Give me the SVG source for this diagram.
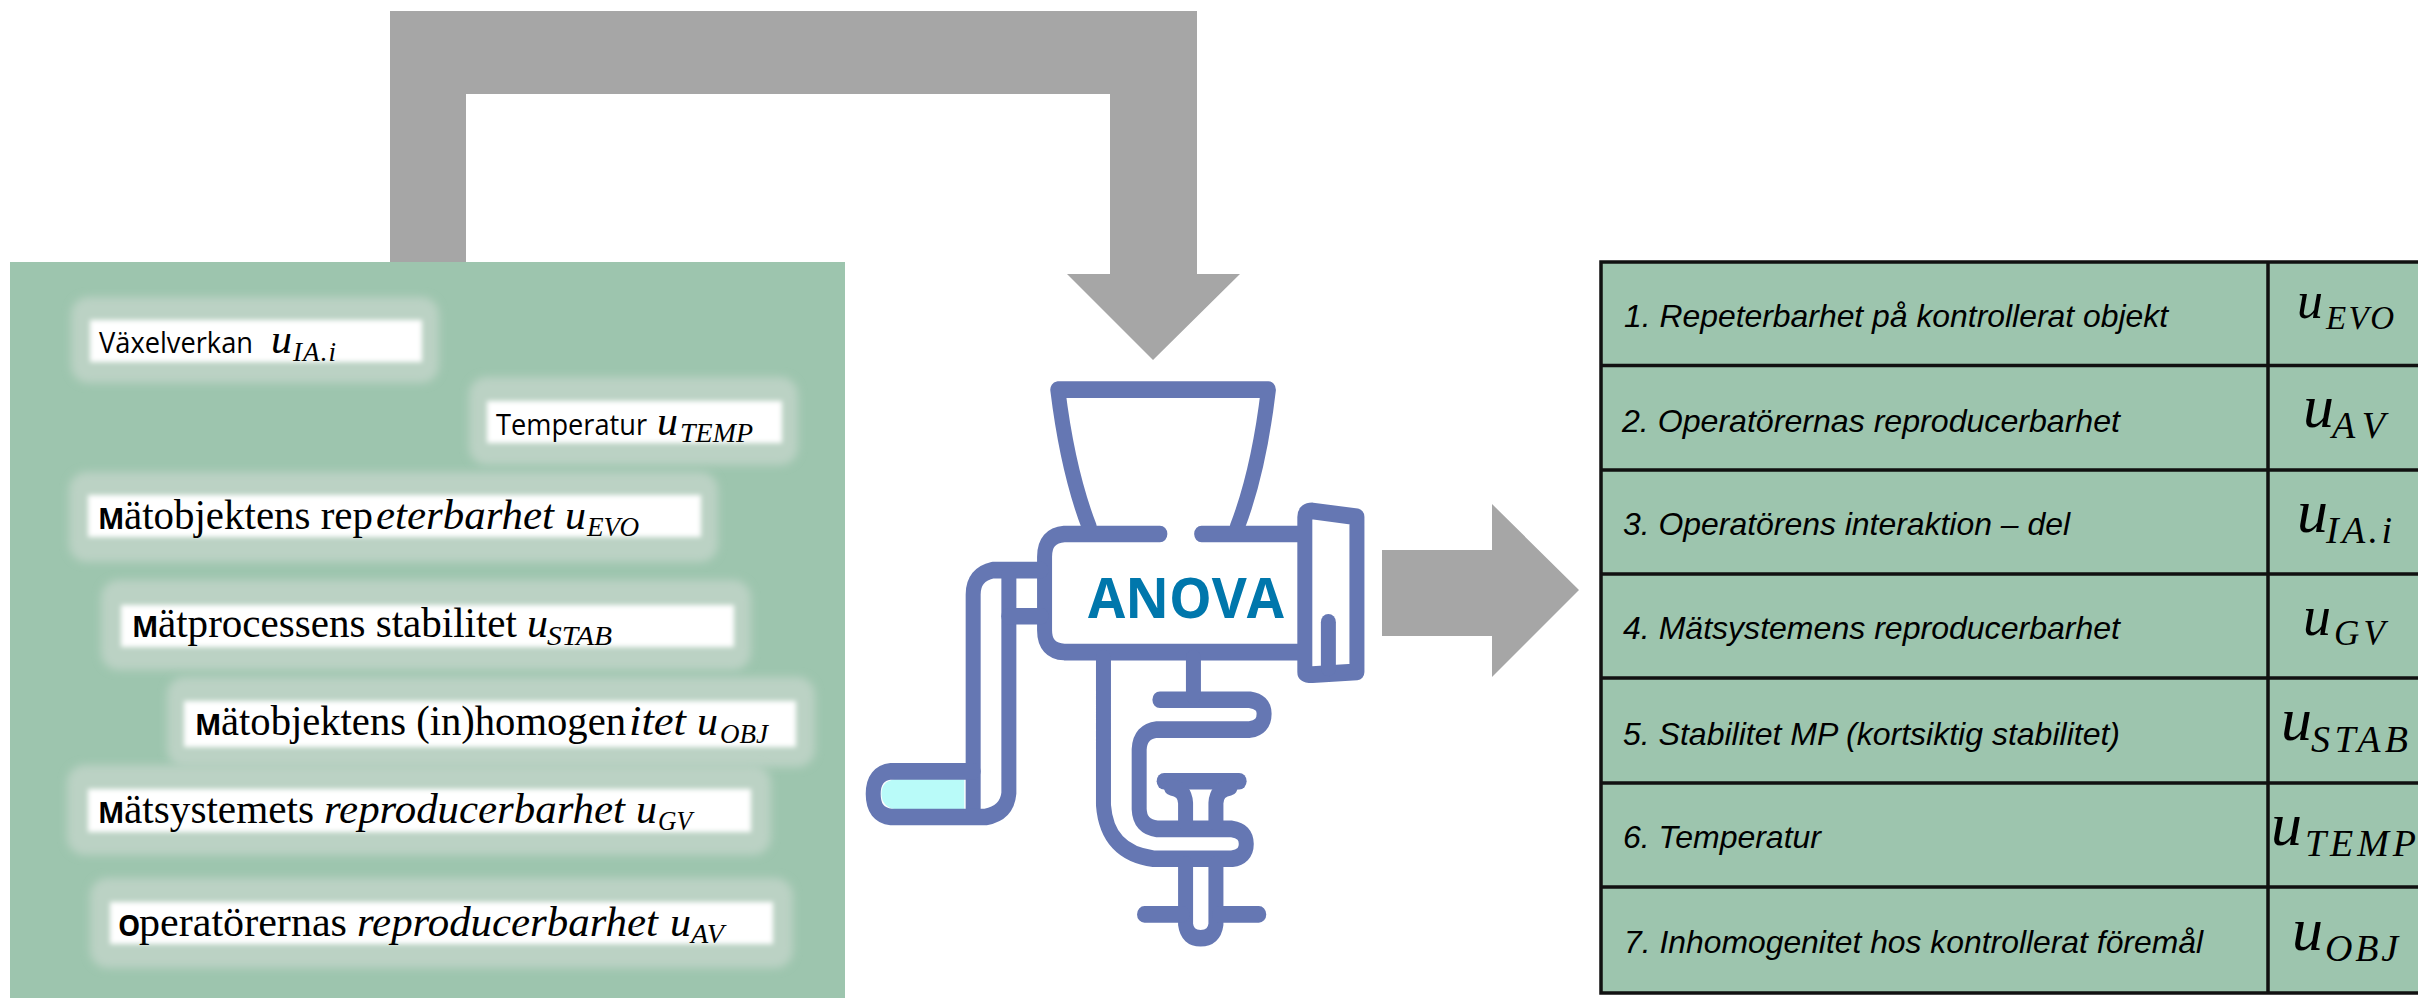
<svg xmlns="http://www.w3.org/2000/svg" width="2418" height="998" viewBox="0 0 2418 998">
  <style>
    .arrow { fill: #a6a6a6; }
    .panel { fill: #9dc5ae; }
    .halo { fill: #bbd2c4; filter: url(#softHalo); }
    .chip { fill: #ffffff; filter: url(#softChip); }
    .lbl { font-family: "Liberation Serif", "Times New Roman", serif; font-size: 42px; fill: #000; }
    .sans { font-family: "Open Sans", "Noto Sans", sans-serif; font-size: 29px; }
    .cap { font-family: "Open Sans", "Noto Sans", sans-serif; font-size: 28px; font-weight: 700; }
    .it { font-style: italic; }
    .sub { font-style: italic; font-size: 27px; }
    .grid { fill: none; stroke: #111; stroke-width: 3.500; }
    .rowtxt { font-family: "Liberation Sans", Arial, sans-serif; font-style: italic; font-size: 32px; fill: #000; }
    .sym { font-family: "Liberation Serif", "Times New Roman", serif; font-style: italic; font-size: 62px; fill: #000; }
    .symsub { font-size: 38px; }
    .line { fill: none; stroke: #6577b3; stroke-width: 42; stroke-linecap: round; stroke-linejoin: round; }
  </style>
  <defs>
    <filter id="softHalo" x="-10%" y="-40%" width="120%" height="180%"><feGaussianBlur stdDeviation="4.500"/></filter>
    <filter id="softChip" x="-5%" y="-20%" width="110%" height="140%"><feGaussianBlur stdDeviation="2.500"/></filter>
  </defs>

  <g id="connectors">
    <path class="arrow" d="M390 262V11H1197V274H1240L1153 360L1067 274H1110V94H466V262Z"/>
    <path class="arrow" d="M1382 550H1492V504L1579 590L1492 677V636H1382Z"/>
  </g>

  <g id="sources">
    <rect class="panel" x="10" y="262" width="835" height="736"/>
    <g id="src-ia">
      <rect class="halo" x="71" y="297" width="368" height="86" rx="18"/>
      <rect class="chip" x="90" y="320" width="332" height="42"/>
      <text class="lbl"><tspan class="sans" x="99" y="353" textLength="154" lengthAdjust="spacingAndGlyphs">Växelverkan</tspan> <tspan class="it" x="271" y="353">u</tspan><tspan class="sub" x="293" y="361" textLength="43">IA.i</tspan></text>
    </g>
    <g id="src-temp">
      <rect class="halo" x="469" y="377" width="329" height="88" rx="18"/>
      <rect class="chip" x="487" y="401" width="295" height="42"/>
      <text class="lbl"><tspan class="sans" x="496" y="435" textLength="151" lengthAdjust="spacingAndGlyphs">Temperatur</tspan> <tspan class="it" x="657" y="435">u</tspan><tspan class="sub" x="680" y="442" textLength="73" lengthAdjust="spacingAndGlyphs">TEMP</tspan></text>
    </g>
    <g id="src-evo">
      <rect class="halo" x="69" y="472" width="649" height="90" rx="18"/>
      <rect class="chip" x="88" y="495" width="613" height="42"/>
      <text class="lbl"><tspan class="cap" x="98" y="529">M</tspan><tspan x="124" y="529" textLength="249" lengthAdjust="spacingAndGlyphs">ätobjektens rep</tspan><tspan class="it" x="376" y="529" textLength="178" lengthAdjust="spacingAndGlyphs">eterbarhet</tspan> <tspan class="it" x="565" y="529">u</tspan><tspan class="sub" x="587" y="536" textLength="52" lengthAdjust="spacingAndGlyphs">EVO</tspan></text>
    </g>
    <g id="src-stab">
      <rect class="halo" x="101" y="580" width="650" height="90" rx="18"/>
      <rect class="chip" x="121" y="605" width="613" height="42"/>
      <text class="lbl"><tspan class="cap" x="132" y="637">M</tspan><tspan x="158" y="637" textLength="359" lengthAdjust="spacingAndGlyphs">ätprocessens stabilitet</tspan> <tspan class="it" x="527" y="637">u</tspan><tspan class="sub" x="547" y="645" textLength="65" lengthAdjust="spacingAndGlyphs">STAB</tspan></text>
    </g>
    <g id="src-obj">
      <rect class="halo" x="167" y="677" width="648" height="90" rx="18"/>
      <rect class="chip" x="184" y="701" width="612" height="46"/>
      <text class="lbl"><tspan class="cap" x="195" y="735">M</tspan><tspan x="221" y="735" textLength="405" lengthAdjust="spacingAndGlyphs">ätobjektens (in)homogen</tspan><tspan class="it" x="629" y="735" textLength="57" lengthAdjust="spacingAndGlyphs">itet</tspan> <tspan class="it" x="697" y="735">u</tspan><tspan class="sub" x="720" y="743" textLength="48" lengthAdjust="spacingAndGlyphs">OBJ</tspan></text>
    </g>
    <g id="src-gv">
      <rect class="halo" x="67" y="765" width="704" height="90" rx="18"/>
      <rect class="chip" x="88" y="789" width="663" height="43"/>
      <text class="lbl"><tspan class="cap" x="98" y="823">M</tspan><tspan x="124" y="823" textLength="190" lengthAdjust="spacingAndGlyphs">ätsystemets</tspan> <tspan class="it" x="324" y="823" textLength="301" lengthAdjust="spacingAndGlyphs">reproducerbarhet</tspan> <tspan class="it" x="636" y="823">u</tspan><tspan class="sub" x="658" y="830" textLength="34" lengthAdjust="spacingAndGlyphs">GV</tspan></text>
    </g>
    <g id="src-av">
      <rect class="halo" x="90" y="878" width="703" height="90" rx="18"/>
      <rect class="chip" x="110" y="902" width="663" height="42"/>
      <text class="lbl"><tspan class="cap" x="118" y="936">O</tspan><tspan x="139" y="936" textLength="208" lengthAdjust="spacingAndGlyphs">peratörernas</tspan> <tspan class="it" x="357" y="936" textLength="301" lengthAdjust="spacingAndGlyphs">reproducerbarhet</tspan> <tspan class="it" x="670" y="936">u</tspan><tspan class="sub" x="691" y="943" textLength="33" lengthAdjust="spacingAndGlyphs">AV</tspan></text>
    </g>
  </g>

  <g id="anova">
    <g transform="translate(850 340) scale(0.357 0.3975)">
      <!-- handle grip -->
      <path d="M320 1105H125Q88 1110 88 1142Q90 1175 125 1180H320Z" fill="#b9fbf9"/>
      <!-- hopper -->
      <path class="line" d="M670 470Q610 330 582 125H1172Q1145 330 1085 470"/>
      <!-- body -->
      <path class="line" d="M868 488H600Q545 492 545 545V730Q545 782 600 785H1270"/>
      <path class="line" d="M985 488H1270"/>
      <!-- end cap -->
      <path class="line" d="M1274 835V445Q1274 430 1295 430L1420 445V835L1295 842Q1274 842 1274 835Z"/>
      <path class="line" d="M1340 710V825"/>
      <!-- crank -->
      <path class="line" d="M535 579H400Q345 590 345 640V1190"/>
      <path class="line" d="M445 590V1140Q440 1190 380 1200H115Q65 1195 65 1142Q65 1090 115 1085H345"/>
      <path class="line" d="M445 695H535"/>
      <!-- clamp -->
      <path class="line" d="M710 800V1170Q720 1290 850 1305H1070Q1110 1300 1110 1268Q1110 1235 1070 1230H860Q812 1225 810 1180V1030Q812 985 860 980H1120Q1160 975 1160 940Q1160 910 1120 905H868"/>
      <path class="line" d="M962 800V895"/>
      <!-- screw -->
      <path class="line" d="M880 1110H1090"/>
      <path class="line" d="M940 1215V1165Q938 1130 900 1125M1025 1215V1165Q1027 1130 1065 1125"/>
      <path class="line" d="M940 1320V1470Q945 1505 982 1505Q1020 1505 1025 1470V1320"/>
      <path class="line" d="M825 1445H930M1035 1445H1145"/>
    </g>
    <text x="1088" y="618" font-family="'Open Sans','Noto Sans',sans-serif" font-weight="700" font-size="56" fill="#0077ac" textLength="196" lengthAdjust="spacingAndGlyphs">ANOVA</text>
  </g>

  <g id="table">
    <rect x="1601" y="262" width="830" height="731" fill="#9dc5ae"/>
    <path class="grid" d="M2430 262H1601V993H2430M1601 365.500H2430M1601 470H2430M1601 574H2430M1601 678H2430M1601 783H2430M1601 887H2430M2268 262V993"/>
    <g id="row-1"><text class="rowtxt" x="1624" y="327" textLength="544" lengthAdjust="spacingAndGlyphs">1. Repeterbarhet på kontrollerat objekt</text><text class="sym" style="font-size:52px"><tspan x="2297" y="318">u</tspan><tspan class="symsub" style="font-size:33px" x="2326" y="329" textLength="68">EVO</tspan></text></g>
    <g id="row-2"><text class="rowtxt" x="1622" y="432" textLength="498" lengthAdjust="spacingAndGlyphs">2. Operatörernas reproducerbarhet</text><text class="sym"><tspan x="2303" y="427">u</tspan><tspan class="symsub" x="2332" y="438" textLength="53">AV</tspan></text></g>
    <g id="row-3"><text class="rowtxt" x="1623" y="535" textLength="447" lengthAdjust="spacingAndGlyphs">3. Operatörens interaktion – del</text><text class="sym"><tspan x="2297" y="532">u</tspan><tspan class="symsub" x="2326" y="543" textLength="66">IA.i</tspan></text></g>
    <g id="row-4"><text class="rowtxt" x="1623" y="639" textLength="497" lengthAdjust="spacingAndGlyphs">4. Mätsystemens reproducerbarhet</text><text class="sym" style="font-size:56px"><tspan x="2303" y="635">u</tspan><tspan class="symsub" style="font-size:35px" x="2334" y="645" textLength="51">GV</tspan></text></g>
    <g id="row-5"><text class="rowtxt" x="1623" y="745" textLength="497" lengthAdjust="spacingAndGlyphs">5. Stabilitet MP (kortsiktig stabilitet)</text><text class="sym"><tspan x="2281" y="740">u</tspan><tspan class="symsub" x="2311" y="752" textLength="97">STAB</tspan></text></g>
    <g id="row-6"><text class="rowtxt" x="1623" y="848" textLength="198" lengthAdjust="spacingAndGlyphs">6. Temperatur</text><text class="sym"><tspan x="2271" y="845">u</tspan><tspan class="symsub" x="2305" y="856" textLength="111">TEMP</tspan></text></g>
    <g id="row-7"><text class="rowtxt" x="1624" y="953" textLength="579" lengthAdjust="spacingAndGlyphs">7. Inhomogenitet hos kontrollerat föremål</text><text class="sym"><tspan x="2292" y="950">u</tspan><tspan class="symsub" x="2325" y="961" textLength="73">OBJ</tspan></text></g>
  </g>
</svg>
